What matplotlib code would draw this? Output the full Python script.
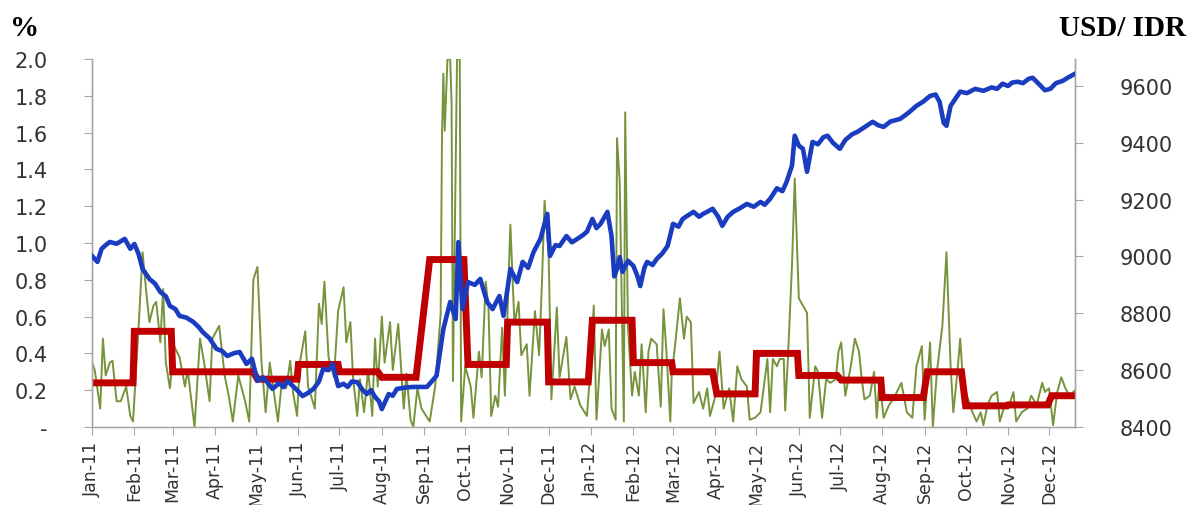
import numpy as np
import pandas as pd
import matplotlib
matplotlib.use('Agg')
import matplotlib.pyplot as plt
import matplotlib.dates as mdates
from matplotlib.ticker import FuncFormatter

start = pd.Timestamp('2011-01-01')

# daily volatility (%), day number counted from 1 Jan 2011
vol_day = [0, 2, 6, 8, 10, 13, 15, 18, 21, 25, 28, 30, 34, 37, 40, 42, 45, 47, 50, 52,
           54, 57, 60, 64, 68, 70, 75, 79, 82, 86, 88, 93, 97, 100, 103, 107, 112, 115, 118, 121,
           124, 127, 130, 133, 136, 139, 142, 145, 147, 150, 152, 156, 158, 161, 163, 166, 168, 170, 173, 177,
           180, 184, 186, 189, 191, 194, 196, 199, 202, 205, 207, 209, 212, 214, 218, 220, 224, 228, 230, 233,
           235, 238, 241, 247, 251, 255, 256, 257, 258, 260, 262, 263, 264, 267, 269, 270, 273, 277, 279, 283,
           285, 288, 290, 292, 295, 297, 300, 302, 306, 309, 312, 314, 318, 320, 324, 327, 329, 331, 334, 336,
           340, 342, 347, 350, 353, 357, 362, 364, 367, 369, 373, 375, 378, 380, 383, 384, 386, 389, 390, 392,
           395, 397, 400, 402, 405, 407, 409, 413, 416, 418, 420, 423, 424, 427, 430, 433, 435, 438, 440, 444,
           447, 450, 452, 456, 459, 462, 466, 469, 472, 475, 479, 481, 485, 489, 494, 496, 498, 501, 503, 506,
           507, 509, 512, 514, 517, 520, 523, 525, 529, 531, 534, 537, 540, 544, 546, 548, 551, 555, 558, 561,
           563, 565, 569, 572, 574, 576, 579, 583, 586, 590, 592, 596, 600, 603, 607, 609, 613, 615, 618, 622,
           625, 628, 630, 633, 635, 637, 640, 644, 647, 650, 652, 655, 658, 662, 664, 668, 670, 674, 676, 680,
           684, 687, 691, 695, 697, 700, 703, 706, 709, 712, 715, 719]
vol_pct = [0.35, 0.31, 0.10, 0.48, 0.28, 0.35, 0.36, 0.14, 0.14, 0.22, 0.06, 0.03, 0.53, 0.95, 0.71, 0.57, 0.66, 0.68, 0.46, 0.75,
           0.35, 0.21, 0.44, 0.38, 0.22, 0.31, 0.00, 0.48, 0.35, 0.14, 0.48, 0.55, 0.28, 0.17, 0.03, 0.28, 0.14, 0.03, 0.80, 0.87,
           0.35, 0.08, 0.35, 0.19, 0.03, 0.26, 0.21, 0.36, 0.19, 0.06, 0.35, 0.52, 0.22, 0.15, 0.10, 0.67, 0.56, 0.79, 0.38, 0.27,
           0.63, 0.76, 0.46, 0.57, 0.26, 0.06, 0.26, 0.08, 0.31, 0.06, 0.48, 0.22, 0.60, 0.35, 0.57, 0.31, 0.56, 0.10, 0.29, 0.04,
           0.00, 0.21, 0.10, 0.03, 0.22, 0.61, 1.58, 1.92, 1.61, 2.00, 2.00, 1.76, 0.25, 2.00, 2.00, 0.03, 0.33, 0.22, 0.05, 0.41,
           0.27, 0.79, 0.65, 0.06, 0.17, 0.11, 0.54, 0.17, 1.10, 0.56, 0.68, 0.39, 0.45, 0.17, 0.63, 0.39, 0.76, 1.23, 0.94, 0.15,
           0.65, 0.27, 0.49, 0.15, 0.22, 0.12, 0.06, 0.26, 0.66, 0.04, 0.53, 0.44, 0.53, 0.10, 0.04, 1.57, 1.33, 0.03, 1.71, 0.55,
           0.17, 0.30, 0.17, 0.45, 0.08, 0.41, 0.48, 0.45, 0.11, 0.64, 0.43, 0.03, 0.28, 0.48, 0.70, 0.48, 0.60, 0.57, 0.13, 0.19,
           0.10, 0.21, 0.06, 0.17, 0.41, 0.10, 0.21, 0.03, 0.33, 0.26, 0.22, 0.04, 0.05, 0.08, 0.37, 0.08, 0.37, 0.33, 0.37, 0.37,
           0.09, 0.37, 0.88, 1.35, 0.70, 0.66, 0.62, 0.05, 0.33, 0.30, 0.05, 0.26, 0.24, 0.26, 0.41, 0.46, 0.17, 0.33, 0.48, 0.41,
           0.26, 0.15, 0.17, 0.30, 0.05, 0.26, 0.05, 0.12, 0.15, 0.21, 0.24, 0.08, 0.05, 0.33, 0.44, 0.04, 0.46, 0.00, 0.30, 0.55,
           0.95, 0.33, 0.08, 0.30, 0.48, 0.26, 0.17, 0.08, 0.03, 0.08, 0.01, 0.12, 0.17, 0.19, 0.03, 0.13, 0.10, 0.19, 0.03, 0.08,
           0.10, 0.17, 0.12, 0.24, 0.19, 0.21, 0.01, 0.19, 0.27, 0.21, 0.17, 0.20]

# monthly average volatility (%)
avg_vol = [0.24, 0.52, 0.30, 0.30, 0.26, 0.34, 0.30, 0.27, 0.91, 0.34, 0.57, 0.245,
           0.58, 0.35, 0.30, 0.18, 0.40, 0.28, 0.255, 0.16, 0.30, 0.115, 0.12, 0.17]
market_holidays = ['2011-08-29', '2011-08-30', '2011-08-31', '2011-09-01', '2011-09-02']

# USD/IDR exchange rate
fx_day = [0, 4, 7, 10, 13, 18, 24, 28, 31, 34, 37, 42, 46, 50, 54, 57, 61, 64, 69, 74,
          78, 81, 86, 91, 95, 99, 104, 108, 113, 117, 121, 125, 128, 132, 137, 140, 143, 147, 150, 154,
          158, 162, 166, 169, 173, 176, 180, 184, 187, 190, 194, 198, 201, 204, 207, 210, 212, 215, 217, 220,
          223, 228, 235, 245, 252, 257, 262, 266, 268, 271, 275, 280, 284, 289, 293, 298, 301, 306, 311, 315,
          319, 323, 328, 333, 335, 339, 342, 347, 351, 355, 359, 362, 366, 369, 372, 377, 380, 382, 384, 386,
          388, 392, 396, 399, 401, 404, 406, 410, 413, 417, 421, 425, 429, 432, 436, 440, 444, 447, 451, 454,
          458, 461, 465, 469, 474, 479, 484, 489, 492, 496, 501, 505, 508, 512, 514, 517, 520, 523, 527, 531,
          535, 538, 542, 547, 551, 556, 560, 565, 571, 575, 579, 584, 591, 597, 603, 608, 613, 617, 620, 623,
          625, 628, 635, 640, 646, 652, 658, 662, 666, 670, 673, 677, 681, 685, 688, 692, 697, 701, 705, 710,
          714, 719]
fx_rate = [9002, 8981, 9027, 9040, 9051, 9045, 9062, 9027, 9044, 9010, 8956, 8921, 8905, 8875, 8860, 8826, 8815, 8791, 8785, 8770,
           8752, 8734, 8712, 8675, 8668, 8650, 8660, 8664, 8622, 8640, 8562, 8575, 8558, 8534, 8555, 8540, 8562, 8544, 8530, 8509,
           8520, 8534, 8560, 8604, 8600, 8622, 8544, 8552, 8541, 8560, 8558, 8530, 8516, 8530, 8506, 8490, 8463, 8495, 8516, 8510,
           8534, 8538, 8541, 8541, 8580, 8745, 8840, 8780, 9051, 8815, 8910, 8900, 8921, 8840, 8815, 8861, 8791, 8956, 8910, 8981,
           8960, 9016, 9062, 9150, 9002, 9040, 9037, 9072, 9050, 9062, 9075, 9087, 9132, 9100, 9115, 9157, 9072, 8930, 8956, 8998,
           8946, 8985, 8967, 8930, 8896, 8960, 8981, 8970, 8991, 9010, 9037, 9115, 9105, 9132, 9145, 9157, 9140, 9150, 9160, 9168,
           9140, 9108, 9140, 9157, 9170, 9185, 9175, 9192, 9182, 9203, 9240, 9230, 9262, 9320, 9425, 9390, 9379, 9298, 9403, 9395,
           9420, 9425, 9400, 9379, 9410, 9430, 9439, 9455, 9474, 9462, 9456, 9475, 9484, 9505, 9530, 9545, 9565, 9570, 9544, 9470,
           9460, 9530, 9580, 9575, 9590, 9583, 9595, 9590, 9608, 9600, 9612, 9615, 9610, 9625, 9629, 9610, 9585, 9590, 9610, 9618,
           9630, 9643]

left_ticks = [0, 0.2, 0.4, 0.6, 0.8, 1.0, 1.2, 1.4, 1.6, 1.8, 2.0]
right_ticks = [8400, 8600, 8800, 9000, 9200, 9400, 9600]

vol_dates = start + pd.to_timedelta(vol_day, unit='D')
fx_dates = start + pd.to_timedelta(fx_day, unit='D')

# monthly average drawn as a flat line over each month's trading days
bdays = pd.bdate_range('2011-01-03', '2012-12-20')
bdays = bdays[~bdays.isin(pd.to_datetime(market_holidays))]
month_idx = (bdays.year - 2011) * 12 + bdays.month - 1
avg_daily = np.array(avg_vol)[month_idx]

tick_color = '#333333'
spine_color = '#a6a6a6'

fig = plt.figure(figsize=(11.92, 5.06), dpi=100)
ax1 = fig.add_axes([92 / 1192, 1 - 428 / 506, (1075 - 92) / 1192, (428 - 60) / 506])
ax2 = ax1.twinx()

ax1.plot(vol_dates, vol_pct, color='#77933c', lw=1.4, zorder=2)
ax1.plot(bdays, avg_daily, color='#c00000', lw=5, zorder=3, solid_joinstyle='miter')
ax2.plot(fx_dates, fx_rate, color='#1a3cc0', lw=3.3, zorder=4)

ax1.set_xlim(pd.Timestamp('2011-01-01'), pd.Timestamp('2012-12-20'))
ax1.set_ylim(0, 2.0)
ax2.set_ylim(8400, 9695)

ax1.set_yticks(left_ticks)
ax1.yaxis.set_major_formatter(FuncFormatter(lambda v, p: '-' if v == 0 else f'{v:.1f}'))
ax2.set_yticks(right_ticks)

ax1.xaxis.set_major_locator(mdates.MonthLocator())
ax1.xaxis.set_major_formatter(mdates.DateFormatter('%b-%y'))
for lbl in ax1.get_xticklabels():
    lbl.set_rotation(90)

ax1.tick_params(axis='x', direction='out', length=6, color=spine_color,
                labelsize=12.5, labelcolor=tick_color, pad=4)
ax1.tick_params(axis='y', direction='out', length=6, color=spine_color,
                labelsize=15, labelcolor=tick_color, pad=26)
ax2.tick_params(axis='y', direction='out', length=6, color=spine_color,
                labelsize=15, labelcolor=tick_color, pad=26)

for ax in (ax1, ax2):
    ax.spines['top'].set_visible(False)
    for s in ('left', 'right', 'bottom'):
        ax.spines[s].set_color(spine_color)
        ax.spines[s].set_linewidth(1.0)
ax1.spines['bottom'].set_color('#d0d0d0')

fig.text(10 / 1192, 1 - 28 / 506, '%', fontsize=21, fontweight='bold',
         family='Liberation Serif', va='center', ha='left')
fig.text(1186 / 1192, 1 - 28 / 506, 'USD/ IDR', fontsize=21, fontweight='bold',
         family='Liberation Serif', va='center', ha='right')

fig.savefig('out.png', dpi=100)
